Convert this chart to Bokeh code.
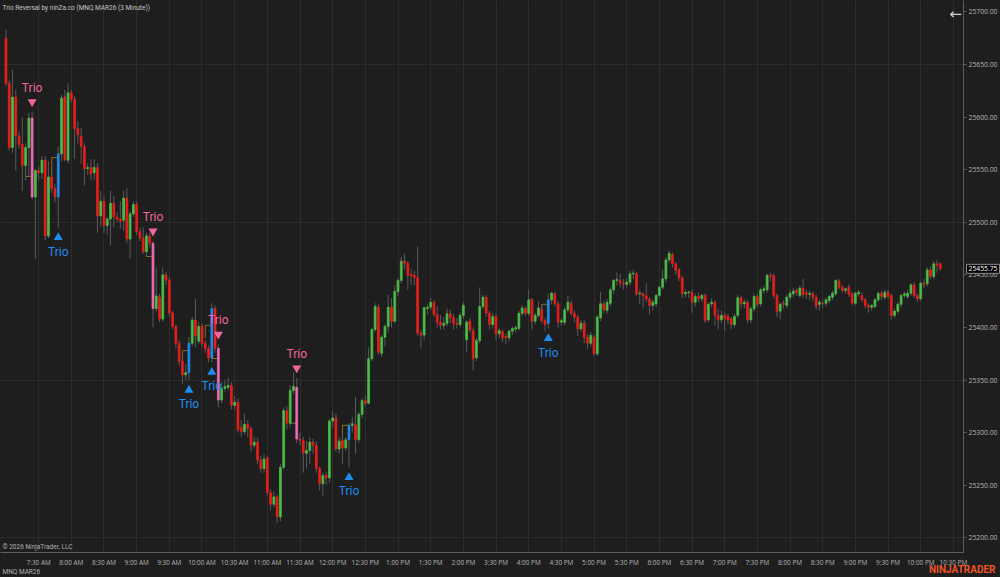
import pandas as pd
from bokeh.plotting import figure
from bokeh.models import (Range1d, FixedTicker, NumeralTickFormatter, Label,
                          ColumnDataSource, GlobalInlineStyleSheet)
from bokeh.core.properties import value
from bokeh.embed import file_html
from bokeh.resources import INLINE

# ---------------- data (3-minute MNQ MAR26 bars) ----------------
opens = [
    25675, 25632, 25571, 25619, 25582, 25574, 25554, 25571, 25599, 25524,
    25549, 25547, 25559, 25487, 25543, 25532, 25524, 25565, 25619, 25559,
    25623, 25617, 25589, 25582, 25572, 25551, 25552, 25547, 25552, 25506,
    25520, 25497, 25503, 25518, 25505, 25503, 25502, 25523, 25484, 25508,
    25517, 25491, 25485, 25472, 25487, 25480, 25418, 25429, 25408, 25450,
    25445, 25414, 25401, 25385, 25368, 25355, 25357, 25385, 25407, 25387,
    25401, 25385, 25380, 25371, 25418, 25380, 25331, 25342, 25343, 25345,
    25326, 25329, 25305, 25301, 25308, 25304, 25288, 25291, 25274, 25266,
    25276, 25243, 25232, 25239, 25220, 25267, 25321, 25309, 25340, 25343,
    25294, 25292.5, 25280.5, 25283, 25291, 25288, 25266, 25251.5, 25259.25, 25257,
    25311, 25314, 25284.5, 25292.5, 25285.5, 25293.25, 25307, 25307.5, 25293.5, 25317.25,
    25330.5, 25328, 25370.25, 25398, 25419.25, 25375.5, 25390.75, 25401, 25419.25, 25406,
    25434.25, 25444.75, 25463, 25461, 25450.5, 25449.75, 25447.25, 25394.5, 25392.75, 25418,
    25419.25, 25423.5, 25412.25, 25405, 25402, 25404, 25413, 25409.25, 25404, 25402.75,
    25411.5, 25388.25, 25406, 25397, 25371.25, 25387.5, 25420, 25428.75, 25413.5, 25402.75,
    25410.5, 25394, 25396, 25391.5, 25390.25, 25396.5, 25398.5, 25399, 25413.5, 25417.75,
    25413.5, 25426.25, 25406, 25411.5, 25416.75, 25406.5, 25404, 25426.25, 25432, 25422.5,
    25405, 25405, 25416.75, 25423, 25413.5, 25409.75, 25398.75, 25404, 25390.75, 25385,
    25390.75, 25375, 25409.25, 25422.5, 25416.25, 25423, 25435.75, 25444.75, 25444.75, 25442,
    25441, 25443, 25451, 25451, 25432, 25432, 25430, 25427, 25421, 25422.5,
    25430.5, 25438.25, 25446.25, 25464.25, 25469.5, 25460.5, 25454.75, 25447.25, 25432, 25433.25,
    25433.25, 25424, 25429.5, 25427.25, 25430.5, 25407.25, 25422.5, 25424, 25411.5, 25407.25,
    25411.5, 25410.5, 25408.25, 25402.75, 25411.5, 25428.25, 25422.5, 25424, 25407.25, 25417.75,
    25429.5, 25422.5, 25435.25, 25435.75, 25449.5, 25449.5, 25430.5, 25415.5, 25423, 25421,
    25428.75, 25432, 25435.25, 25430.5, 25437, 25433, 25431.5, 25432, 25428.75, 25422,
    25423, 25423, 25425.75, 25428.75, 25432, 25444, 25438.25, 25435.25, 25438.25, 25432,
    25423, 25432, 25430.5, 25426.25, 25421, 25419.25, 25420, 25426.25, 25432.5, 25428.75,
    25433.5, 25430.5, 25411.5, 25415.5, 25422, 25430.5, 25429.5, 25432.5, 25440.5, 25430.5,
    25427.25, 25442, 25441.5, 25454.75, 25448.5, 25460.5, 25460.5,
]
highs = [
    25683, 25635, 25645, 25626, 25586, 25600, 25575, 25604, 25605, 25551,
    25553, 25563, 25563, 25558, 25548, 25536, 25572, 25621, 25626, 25632,
    25626, 25620, 25596, 25590, 25575, 25556, 25560, 25560, 25556, 25530,
    25525, 25505, 25530, 25525, 25510, 25520, 25530, 25532, 25510, 25520,
    25520, 25495, 25495, 25490, 25490, 25482, 25457, 25432, 25457, 25453,
    25448, 25416, 25403, 25388, 25370, 25365, 25391, 25410, 25427, 25405,
    25404, 25388, 25383, 25423, 25421, 25384, 25348, 25350, 25352, 25348,
    25335, 25332, 25312, 25318, 25312, 25306, 25296, 25295, 25278, 25280,
    25278, 25246, 25244, 25241, 25270, 25324, 25325, 25345, 25357, 25352,
    25300, 25296, 25292, 25296, 25294, 25292, 25268, 25262, 25262, 25313,
    25320, 25318, 25296, 25298, 25296, 25309, 25315, 25334, 25320, 25333,
    25335, 25381, 25400, 25423, 25422, 25393, 25403, 25431, 25428, 25440,
    25447, 25467, 25470, 25463, 25456, 25454, 25477, 25398, 25420, 25422,
    25428, 25426, 25420, 25412, 25410, 25418, 25417, 25413, 25409, 25414,
    25424, 25407, 25409, 25400, 25390, 25438, 25431, 25431, 25416, 25414,
    25413, 25400, 25398, 25394, 25398, 25401, 25402, 25416, 25421, 25420,
    25436, 25428, 25414, 25425, 25420, 25409, 25432, 25434, 25434, 25425,
    25409, 25419, 25430, 25426, 25416, 25412, 25407, 25407, 25394, 25396,
    25393, 25412, 25434, 25425, 25427, 25438, 25446, 25452, 25451, 25446,
    25447, 25454, 25455, 25453, 25436, 25434, 25442, 25429, 25426, 25432,
    25440, 25455, 25467, 25473, 25471, 25462, 25457, 25449, 25436, 25435,
    25436, 25432, 25433, 25432, 25432, 25424, 25428, 25426, 25418, 25416,
    25414, 25413, 25410, 25413, 25431, 25430, 25427, 25426, 25420, 25432,
    25432, 25438, 25440, 25451, 25452, 25451, 25432, 25424, 25426, 25431,
    25436, 25438, 25437, 25440, 25446, 25436, 25435, 25434, 25431, 25426,
    25426, 25428, 25431, 25435, 25446, 25446, 25440, 25438, 25441, 25434,
    25434, 25436, 25433, 25428, 25423, 25422, 25428, 25434, 25435, 25436,
    25436, 25432, 25418, 25424, 25432, 25434, 25436, 25442, 25443, 25432,
    25444, 25446, 25457, 25458, 25463, 25464.25, 25462,
]
lows = [
    25630, 25568, 25566, 25549, 25570, 25530, 25540, 25543, 25522, 25465,
    25540, 25541, 25483, 25485, 25528, 25519, 25495, 25558, 25558, 25556,
    25614, 25560, 25575, 25556, 25535, 25545, 25540, 25540, 25490, 25496,
    25490, 25488, 25478, 25495, 25500, 25494, 25492, 25480, 25465, 25505,
    25488, 25482, 25470, 25468, 25476, 25400, 25415, 25405, 25406, 25440,
    25410, 25398, 25380, 25364, 25346, 25350, 25350, 25382, 25381, 25384,
    25382, 25376, 25367, 25367, 25376, 25324, 25328, 25339, 25340, 25322,
    25322, 25300, 25296, 25298, 25296, 25282, 25285, 25270, 25262, 25262,
    25240, 25226, 25229, 25214, 25216, 25265, 25303, 25305, 25337, 25290,
    25288, 25262, 25266, 25270, 25280, 25262, 25245, 25240, 25250, 25252,
    25305, 25282, 25280, 25270, 25283, 25267, 25300, 25280, 25290, 25314,
    25325, 25327, 25368, 25396, 25374, 25372, 25382, 25395, 25400, 25404,
    25430, 25442, 25455, 25436, 25440, 25440, 25392, 25380, 25388, 25412,
    25416, 25410, 25400, 25398, 25398, 25401, 25404, 25398, 25399, 25400,
    25408, 25376.5, 25395, 25359, 25368, 25385, 25417, 25410, 25398, 25399,
    25388, 25390, 25386, 25384, 25387, 25393, 25395, 25397, 25411, 25411,
    25411, 25398, 25403, 25409, 25404, 25396, 25399, 25422, 25420, 25400,
    25402, 25402, 25414, 25411, 25405, 25392, 25396, 25385, 25380, 25382,
    25373, 25373, 25406, 25414, 25413, 25420, 25432, 25440, 25438, 25436,
    25438, 25440, 25446, 25430, 25422, 25418, 25424, 25412, 25416, 25419,
    25428, 25436, 25443, 25461, 25457, 25450, 25444, 25428, 25429, 25428,
    25414, 25420, 25424, 25424, 25404, 25405, 25419, 25402, 25398, 25404,
    25397, 25403, 25398, 25400, 25409, 25418, 25418, 25404, 25404, 25415,
    25419, 25420, 25432, 25433, 25444, 25428, 25410, 25408, 25418, 25418,
    25426, 25429, 25430, 25428, 25428, 25427, 25426, 25425, 25417, 25416,
    25419, 25420, 25423, 25426, 25430, 25436, 25433, 25432, 25429, 25421,
    25421, 25429, 25425, 25418, 25414, 25416, 25418, 25424, 25426, 25426,
    25427, 25407.25, 25409, 25413, 25419, 25428, 25427, 25430, 25428, 25424,
    25425, 25437, 25439, 25446, 25446, 25452, 25454,
]
closes = [
    25632, 25571, 25619, 25582, 25574, 25554, 25571, 25599, 25524, 25549,
    25547, 25559, 25487, 25543, 25532, 25524, 25565, 25618, 25560, 25623,
    25617, 25589, 25583, 25572, 25551, 25552, 25546, 25552, 25506, 25520,
    25497, 25503, 25518, 25505, 25503, 25501, 25523, 25484, 25508, 25517,
    25491, 25485, 25472, 25487, 25480, 25418, 25430, 25408, 25450, 25445,
    25414, 25401, 25385, 25368, 25355, 25357, 25385, 25407, 25392, 25401,
    25385, 25380, 25371, 25418, 25380, 25331, 25342, 25344, 25345, 25326,
    25329, 25303, 25301, 25308, 25304, 25288, 25291, 25274, 25266, 25275,
    25243, 25232, 25239, 25220, 25267, 25321, 25309, 25340, 25344, 25294,
    25292.5, 25280.5, 25283, 25291, 25288, 25266, 25251.5, 25259.25, 25257, 25311,
    25314, 25284.5, 25292, 25285.5, 25293.25, 25307, 25308.5, 25293.5, 25317.25, 25330.5,
    25328, 25370.25, 25398, 25420, 25376.5, 25390.75, 25401, 25419.25, 25406, 25434.25,
    25444.75, 25463, 25461, 25449.5, 25449, 25447.25, 25394.5, 25392.75, 25418.75, 25419.25,
    25424, 25412.25, 25405, 25402, 25404, 25413, 25409.25, 25404, 25402.75, 25411.5,
    25421, 25405, 25397.75, 25370.25, 25387.5, 25420, 25428.75, 25413.5, 25402.75, 25410.5,
    25394, 25397, 25390.25, 25390.25, 25396.5, 25399, 25399.75, 25413.5, 25418.5, 25413.5,
    25426.25, 25406, 25411.5, 25418.5, 25406.5, 25402.75, 25426.25, 25432.5, 25422.5, 25405,
    25406.5, 25416.75, 25424, 25413.5, 25409.75, 25398.75, 25404, 25390.75, 25385, 25392.5,
    25375, 25409.75, 25422.5, 25416.75, 25424, 25435.75, 25444.75, 25445.5, 25442.5, 25441,
    25443, 25451, 25451.5, 25432, 25432.75, 25430, 25427, 25421, 25424, 25430.5,
    25438.25, 25446.25, 25464.25, 25470.5, 25460.5, 25454.25, 25447.25, 25432, 25433.25, 25433.75,
    25424, 25429.5, 25427.25, 25430.5, 25406.5, 25422, 25424, 25411.5, 25407.25, 25411.5,
    25408.25, 25407.25, 25402.75, 25410.5, 25428.25, 25422.5, 25424, 25407.25, 25417.75, 25429.5,
    25422, 25435.75, 25436.75, 25449.5, 25448.75, 25430.5, 25415.5, 25422, 25422, 25428.75,
    25432.5, 25434.5, 25433.25, 25437.5, 25431, 25431.5, 25432.5, 25428.75, 25420.25, 25424,
    25422.5, 25426.25, 25429.5, 25432.5, 25444.75, 25438.25, 25435.25, 25436.75, 25431.5, 25423,
    25432.5, 25433.5, 25426.25, 25421, 25419.25, 25421, 25426.25, 25432.5, 25429.5, 25433.5,
    25429.5, 25411.5, 25415.5, 25422, 25430.5, 25432, 25432.5, 25440.5, 25430.5, 25427.25,
    25442, 25441, 25454.75, 25448.5, 25460.5, 25459, 25455.75,
]

bear_signal_bars = [8, 45, 65, 89]          # Trio bearish reversal (pink)
bull_signal_bars = [16, 56, 63, 105, 166]   # Trio bullish reversal (blue)
signal_text = "Trio"

# small Trio pattern level lines (start bar, signal bar, level, vertical end)
pattern_start = [6, 14, 43, 54, 61, 63, 87, 103, 164]
pattern_end = [8, 16, 45, 56, 63, 65, 89, 105, 166]
pattern_level = [25543.5, 25561.5, 25467.5, 25378, 25402, 25370.5, 25309, 25307, 25422]
pattern_vend = [25571, 25533, 25472, 25360, 25390, 25377, 25316, 25290, 25412]

time_labels = ["7:30 AM", "8:00 AM", "8:30 AM", "9:00 AM", "9:30 AM", "10:00 AM",
               "10:30 AM", "11:00 AM", "11:30 AM", "12:00 PM", "12:30 PM", "1:00 PM",
               "1:30 PM", "2:00 PM", "3:30 PM", "4:00 PM", "4:30 PM", "5:00 PM",
               "5:30 PM", "6:00 PM", "6:30 PM", "7:00 PM", "7:30 PM", "8:00 PM",
               "8:30 PM", "9:00 PM", "9:30 PM", "10:00 PM", "10:30 PM"]
time_label_bars = [10 + 10 * k for k in range(len(time_labels))]
price_ticks = [25200, 25250, 25300, 25350, 25400, 25450, 25500, 25550, 25600, 25650, 25700]
grid_prices = [25200, 25350, 25500, 25650]
last_price = 25455.75

# ---------------- styling ----------------
BG = "#1e1e1e"
UP = "#4cbc48"
DOWN = "#e41f1c"
PINK = "#f0669f"
PINK_BAR = "#ee6cb4"
BLUE = "#1e8cf0"
WICK = "#5a5a5a"
GRID = "#2c2c2c"
AXIS = "#5e5e5e"
TXT = "#b4b4b4"
GOLD = "#8a6a24"

n = len(opens)
df = pd.DataFrame(dict(i=list(range(n)), o=opens, h=highs, l=lows, c=closes))
df["top"] = df[["o", "c"]].max(axis=1)
df["bot"] = df[["o", "c"]].min(axis=1)
df["color"] = [UP if c >= o else DOWN for o, c in zip(opens, closes)]
for b in bear_signal_bars:
    df.loc[b, "color"] = PINK_BAR
for b in bull_signal_bars:
    df.loc[b, "color"] = BLUE
src = ColumnDataSource(df)

xr = Range1d(-1.68, 293.1)
yr = Range1d(25186.1, 25710.8)
p = figure(width=1000, height=577, output_backend="svg", toolbar_location=None,
           x_range=xr, y_range=yr,
           x_axis_location="below", y_axis_location="right",
           min_border_left=0, min_border_top=0, min_border_right=33, min_border_bottom=25,
           background_fill_color=BG, border_fill_color=BG, outline_line_color=None)
p.stylesheets = [GlobalInlineStyleSheet(
    css="html, body { margin: 0; padding: 0; background: #1e1e1e; overflow: hidden; }")]

# axes
p.xaxis.ticker = FixedTicker(ticks=time_label_bars)
p.xaxis.major_label_overrides = {b: t for b, t in zip(time_label_bars, time_labels)}
p.xaxis.major_tick_out = 0
p.xaxis.major_tick_in = 0
p.xaxis.minor_tick_line_color = None
p.xaxis.axis_line_color = AXIS
p.xaxis.major_label_text_color = TXT
p.xaxis.major_label_text_font = "Open Sans"
p.xaxis.major_label_text_font_size = "6.4px"
p.xaxis.major_label_standoff = 5

p.yaxis.ticker = FixedTicker(ticks=price_ticks)
p.yaxis.formatter = NumeralTickFormatter(format="0.00")
p.yaxis.major_tick_out = 3
p.yaxis.major_tick_in = 0
p.yaxis.major_tick_line_color = AXIS
p.yaxis.minor_tick_line_color = None
p.yaxis.axis_line_color = AXIS
p.yaxis.major_label_text_color = TXT
p.yaxis.major_label_text_font = "Open Sans"
p.yaxis.major_label_text_font_size = "6.8px"
p.yaxis.major_label_standoff = 2

p.xgrid.ticker = FixedTicker(ticks=time_label_bars)
p.ygrid.ticker = FixedTicker(ticks=grid_prices)
p.xgrid.grid_line_color = GRID
p.ygrid.grid_line_color = GRID

# Trio pattern level lines
p.segment(x0=pattern_start, y0=pattern_level, x1=pattern_end, y1=pattern_level,
          line_color=GOLD, line_width=1)
p.segment(x0=pattern_start, y0=pattern_level, x1=pattern_start, y1=pattern_vend,
          line_color=GOLD, line_width=1)

# candles
p.segment(x0="i", y0="l", x1="i", y1="h", source=src, line_color=WICK, line_width=1)
p.vbar(x="i", width=0.56, top="top", bottom="bot", source=src,
       fill_color="color", line_color="color", line_width=0.8)

# Trio signal markers
mark_off = 9.5
bear = ColumnDataSource(dict(x=bear_signal_bars,
                             y=[highs[b] + mark_off for b in bear_signal_bars],
                             t=[signal_text] * len(bear_signal_bars)))
bull = ColumnDataSource(dict(x=bull_signal_bars,
                             y=[lows[b] - mark_off for b in bull_signal_bars],
                             t=[signal_text] * len(bull_signal_bars)))
p.scatter(x="x", y="y", source=bear, marker="inverted_triangle", size=9,
          fill_color=PINK, line_color=None)
p.scatter(x="x", y="y", source=bull, marker="triangle", size=9,
          fill_color=BLUE, line_color=None)
p.text(x="x", y="y", text="t", source=bear, y_offset=-14, text_align="center",
       text_baseline="middle", text_color=PINK, text_font=value("Roboto"),
       text_font_size="12px")
p.text(x="x", y="y", text="t", source=bull, y_offset=14, text_align="center",
       text_baseline="middle", text_color=BLUE, text_font=value("Roboto"),
       text_font_size="12px")

# texts inside the chart area
p.add_layout(Label(x=2, y=549, x_units="screen", y_units="screen",
                   text="Trio Reversal by ninZa.co (MNQ MAR26 (3 Minute))",
                   text_baseline="top", text_font="Roboto", text_font_size="6.5px",
                   text_color="#c4c4c4"))
p.add_layout(Label(x=2, y=6, x_units="screen", y_units="screen",
                   text="\u00a9 2026 NinjaTrader, LLC", text_baseline="middle",
                   text_font="Roboto", text_font_size="6.5px", text_color="#b0b0b0"))
p.add_layout(Label(x=955, y=539, x_units="screen", y_units="screen",
                   text="\u2190", text_align="center", text_baseline="middle",
                   text_font="DejaVu Sans", text_font_size="15px", text_color="#cfcfcf"))

# texts in the borders (overlay level so they are not clipped to the frame)
p.text(x=[xr.start], y=[yr.start], text=["MNQ MAR26"], x_offset=2, y_offset=19,
       text_align="left", text_baseline="middle", text_color="#b0b0b0",
       text_font=value("Roboto"), text_font_size="6.5px", level="overlay")
p.text(x=[xr.end], y=[yr.start], text=["NINJATRADER"], x_offset=32, y_offset=17,
       text_align="right", text_baseline="middle", text_color="#ee5328",
       text_font=value("Roboto"), text_font_style="bold", text_font_size="10px",
       level="overlay")
p.text(x=[xr.end], y=[last_price], text=["25455.75"], x_offset=3, y_offset=0,
       text_align="left", text_baseline="middle", text_color="white",
       text_font=value("Open Sans"), text_font_size="6.8px",
       background_fill_color="black", border_line_color="#8a8a8a", padding=2,
       level="overlay")

open("out.html", "w").write(file_html(p, INLINE))
